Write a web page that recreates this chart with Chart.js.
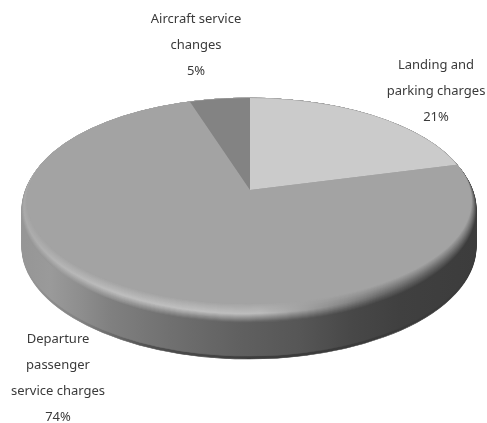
<!DOCTYPE html>
<html lang="en">
<head>
  <meta charset="UTF-8" />
  <title>Airport charges</title>
  <style>
    * { margin: 0; padding: 0; }
    body { background: #fff; overflow: hidden; }
    canvas { display: block; }
  </style>
</head>
<body>
  <canvas id="chargesChart" width="487" height="423"></canvas>

  <script src="https://cdn.jsdelivr.net/npm/chart.js"></script>
  <script>
    // Slices, clockwise from the top
    const categories = ['Landing and parking charges', 'Departure passenger service charges', 'Aircraft service changes'];
    const values = [21, 74, 5];
    const labelLines = [
      ['Landing and', 'parking charges'],
      ['Departure', 'passenger', 'service charges'],
      ['Aircraft service', 'changes']
    ];
    const sliceColors = ['#cbcbcb', '#a3a3a3', '#838383'];

    // Disc geometry (px)
    const disc = { x: 249, y: 210, rx: 227, ry: 112, depth: 37 };
    const apex = { x: 250, y: 190, rx: 285, ry: 136 };
    const labelAnchors = [{ x: 436, y: 65 }, { x: 58, y: 339 }, { x: 196, y: 19 }];
    const labelLineHeight = 26;

    // Grey ramps across the disc, left to right
    const wallStops = [[24, 150], [50, 154], [80, 142], [110, 128], [170, 112], [240, 96], [300, 86], [350, 72], [400, 64], [476, 60]];
    const wallFootStops = [[24, 150], [80, 130], [150, 80], [240, 62], [300, 60], [400, 58], [476, 58]];
    const rimX = [22, 60, 120, 200, 260, 320, 380, 430, 476];
    const rimEdge = [150, 150, 135, 110, 100, 85, 68, 62, 60];
    const rimPeak = [170, 182, 190, 192, 188, 150, 115, 105, 110];
    const rimLayers = 18;
    const rimPeakAt = 0.45;
    const faceGrey = 163;

    const grey = v => { const g = Math.round(v); return `rgb(${g},${g},${g})`; };

    // Horizontal gradient given in page px, converted to the arc's own coordinates
    function greyGradient(ctx, arc, cx, rx, stops) {
      const toLocal = x => arc.x + (x - cx) * arc.outerRadius / rx;
      const first = stops[0][0], last = stops[stops.length - 1][0];
      const g = ctx.createLinearGradient(toLocal(first), 0, toLocal(last), 0);
      stops.forEach(s => g.addColorStop((s[0] - first) / (last - first), grey(s[1])));
      return g;
    }

    // Paints the chart's arcs squashed into an ellipse
    function paintArcs(ctx, arcs, cx, cy, rx, ry, stops) {
      arcs.forEach(arc => {
        const R = arc.outerRadius;
        ctx.save();
        ctx.translate(cx, cy);
        ctx.scale(rx / R, ry / R);
        ctx.translate(-arc.x, -arc.y);
        if (stops) {
          const flat = Object.create(arc);
          const fill = greyGradient(ctx, arc, cx, rx, stops);
          flat.options = Object.assign({}, arc.options, { backgroundColor: fill, borderColor: fill, borderWidth: 1 });
          arc.draw.call(flat, ctx);
        } else {
          arc.draw(ctx);
        }
        ctx.restore();
      });
    }

    const tiltedPie = {
      id: 'tiltedPie',
      beforeDatasetsDraw(chart) {
        const ctx = chart.ctx;
        const arcs = chart.getDatasetMeta(0).data;

        // Side wall, a little darker along its foot
        for (let d = disc.depth; d >= 0; d--) {
          const stops = d > disc.depth - 3 ? wallFootStops : wallStops;
          paintArcs(ctx, arcs, disc.x, disc.y + d, disc.rx, disc.ry, stops);
        }

        // Bevelled rim, eased towards the flat top colour
        let top = disc;
        for (let k = 0; k <= rimLayers; k++) {
          const t = k / rimLayers;
          top = { x: disc.x, y: disc.y - t * 9, rx: disc.rx - t * 5, ry: disc.ry - t * 9 };
          const stops = rimX.map((x, i) => {
            const v = t < rimPeakAt
              ? rimEdge[i] + (rimPeak[i] - rimEdge[i]) * (t / rimPeakAt)
              : rimPeak[i] + (faceGrey - rimPeak[i]) * ((t - rimPeakAt) / (1 - rimPeakAt));
            return [x, v];
          });
          paintArcs(ctx, arcs, top.x, top.y, top.rx, top.ry, stops);
        }

        // Top face: slices fan out from the apex and are cut by the rim
        ctx.save();
        ctx.beginPath();
        ctx.ellipse(top.x, top.y, top.rx, top.ry, 0, 0, Math.PI * 2);
        ctx.clip();
        paintArcs(ctx, arcs, apex.x, apex.y, apex.rx, apex.ry);
        ctx.restore();

        // Labels
        ctx.save();
        ctx.font = '13px "Noto Sans"';
        ctx.fillStyle = '#3a3a3a';
        ctx.textAlign = 'center';
        ctx.textBaseline = 'middle';
        values.forEach((v, i) => {
          const lines = labelLines[i].concat(v + '%');
          lines.forEach((line, n) => {
            ctx.fillText(line, labelAnchors[i].x, labelAnchors[i].y + n * labelLineHeight);
          });
        });
        ctx.restore();

        return false;
      }
    };

    new Chart(document.getElementById('chargesChart'), {
      type: 'pie',
      data: {
        labels: categories,
        datasets: [{
          data: values,
          backgroundColor: sliceColors,
          borderWidth: 0
        }]
      },
      options: {
        responsive: false,
        animation: false,
        plugins: {
          legend: { display: false },
          tooltip: { enabled: false }
        }
      },
      plugins: [tiltedPie]
    });
  </script>
</body>
</html>
